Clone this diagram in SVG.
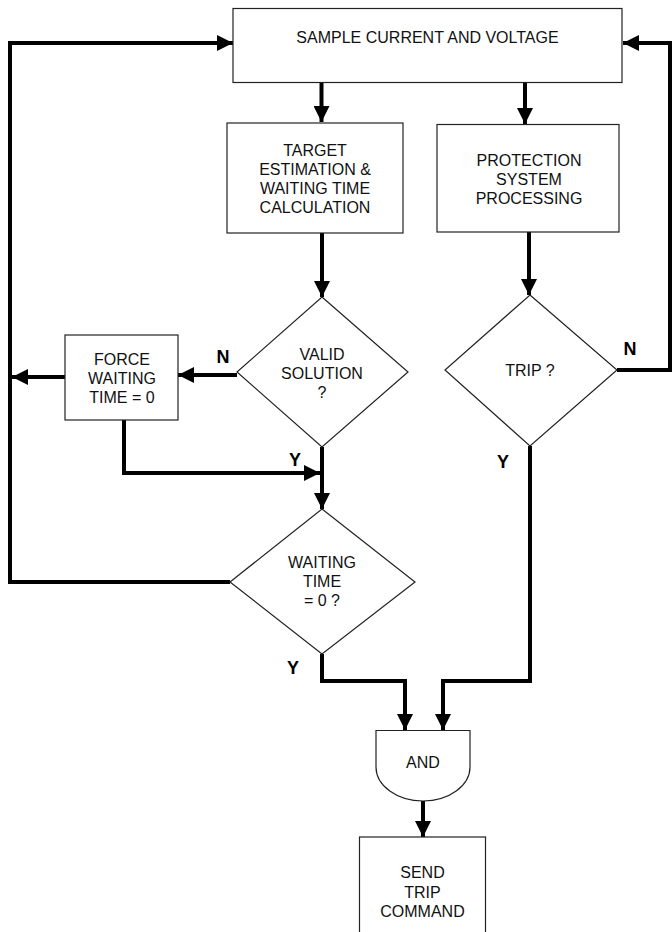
<svg xmlns="http://www.w3.org/2000/svg" width="672" height="932" viewBox="0 0 672 932">
<defs>
<marker id="ah" viewBox="0 0 16 16" refX="16" refY="8" markerWidth="16" markerHeight="16" markerUnits="userSpaceOnUse" orient="auto">
<path d="M0,0 L16,8 L0,16 Z" fill="#000"/>
</marker>
<style>
.box{fill:#fff;stroke:#222;stroke-width:1.2}
.t{font-family:"Liberation Sans",Arial,sans-serif;font-size:16px;fill:#111;text-anchor:middle}
.lb{font-family:"Liberation Sans",Arial,sans-serif;font-size:18px;font-weight:bold;fill:#000;text-anchor:middle}
.c{fill:none;stroke:#000;stroke-width:4}
.ca{fill:none;stroke:#000;stroke-width:4;marker-end:url(#ah)}
</style>
</defs>
<rect width="672" height="932" fill="#fff"/>
<g id="connectors">
<path class="ca" d="M321.5,83 V122"/>
<path class="ca" d="M525,83 V124"/>
<path class="ca" d="M322,233 V297"/>
<path class="ca" d="M529,232 V295"/>
<path class="ca" d="M237,375 H178"/>
<path class="ca" d="M65,377 H12"/>
<path class="ca" d="M124,420 V473 H320"/>
<path class="ca" d="M322,447 V509"/>
<path class="ca" d="M230,582 H10 V43 H233"/>
<path class="ca" d="M617,370 H670 V43 H623"/>
<path class="ca" d="M322,654 V681 H405 V730"/>
<path class="ca" d="M530,446 V681 H443 V730"/>
<path class="ca" d="M423,801 V837"/>
</g>
<g id="sample">
<rect class="box" x="233" y="8.5" width="389" height="74"/>
<text class="t" x="427.5" y="43">SAMPLE CURRENT AND VOLTAGE</text>
</g>
<g id="target">
<rect class="box" x="227" y="123" width="176" height="110"/>
<text class="t" x="315" y="156">TARGET</text>
<text class="t" x="315" y="175">ESTIMATION &amp;</text>
<text class="t" x="315" y="194">WAITING TIME</text>
<text class="t" x="315" y="213">CALCULATION</text>
</g>
<g id="protection">
<rect class="box" x="437" y="124.5" width="182" height="107.5"/>
<text class="t" x="529" y="166">PROTECTION</text>
<text class="t" x="529" y="185">SYSTEM</text>
<text class="t" x="529" y="204">PROCESSING</text>
</g>
<g id="valid">
<path class="box" d="M322,297 L408,372 L322,447 L237,372 Z"/>
<text class="t" x="322" y="360">VALID</text>
<text class="t" x="322" y="379">SOLUTION</text>
<text class="t" x="322" y="398">?</text>
</g>
<g id="trip">
<path class="box" d="M530,295 L617,370 L530,446 L445,370 Z"/>
<text class="t" x="530" y="376">TRIP ?</text>
</g>
<g id="force">
<rect class="box" x="65" y="335" width="113" height="85"/>
<text class="t" x="122" y="365">FORCE</text>
<text class="t" x="122" y="384">WAITING</text>
<text class="t" x="122" y="403">TIME = 0</text>
</g>
<g id="waiting">
<path class="box" d="M322,509 L415,582 L322,654 L230,582 Z"/>
<text class="t" x="322" y="568">WAITING</text>
<text class="t" x="322" y="587">TIME</text>
<text class="t" x="322" y="606">= 0 ?</text>
</g>
<g id="and">
<path class="box" d="M376,730.5 H470 V767 A47,34 0 0 1 376,767 Z"/>
<text class="t" x="423" y="768">AND</text>
</g>
<g id="send">
<rect class="box" x="359.5" y="837" width="126" height="110"/>
<text class="t" x="422.5" y="878">SEND</text>
<text class="t" x="422.5" y="898">TRIP</text>
<text class="t" x="422.5" y="917">COMMAND</text>
</g>
<g id="labels">
<text class="lb" x="223" y="363">N</text>
<text class="lb" x="295" y="466">Y</text>
<text class="lb" x="630" y="355">N</text>
<text class="lb" x="503" y="468">Y</text>
<text class="lb" x="293" y="674">Y</text>
</g>
</svg>
